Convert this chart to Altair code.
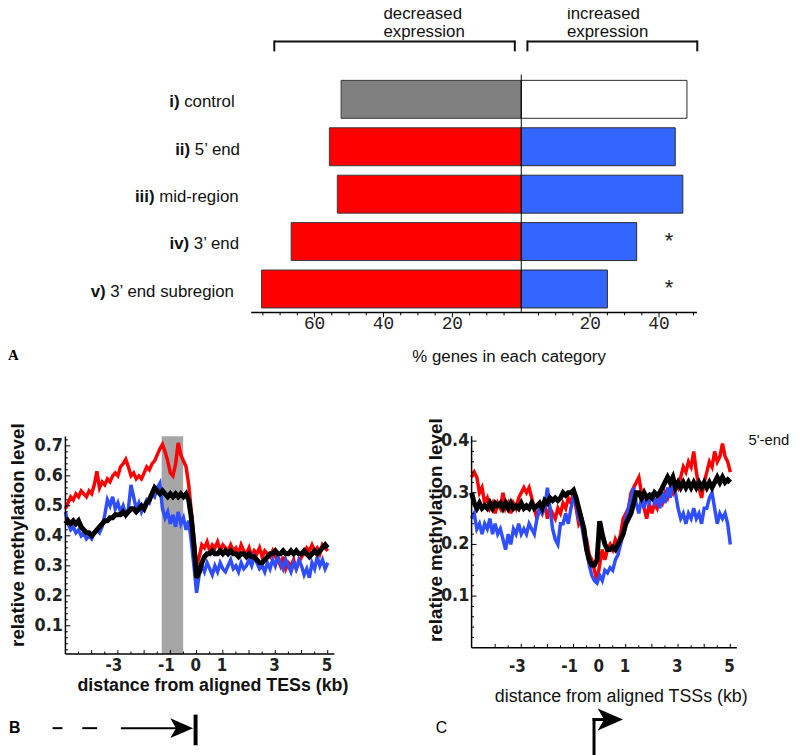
import altair as alt
import pandas as pd

# ---------------- Panel A data ----------------
categories = ["control", "5’ end", "mid-region", "3’ end", "3’ end subregion"]
prefixes = ["i)", "ii)", "iii)", "iv)", "v)"]
decreased = [52.3, 55.7, 53.4, 66.8, 75.4]
increased = [48.1, 44.7, 46.9, 33.5, 25.0]
significant = [False, False, False, True, True]
a_tick_values = [-60, -40, -20, 20, 40]
a_tick_labels = ["60", "40", "20", "20", "40"]

# ---------------- Panel B data (aligned TESs) ----------------
b_x = [round(-5.0 + 0.1 * i, 1) for i in range(101)]
b_red = [0.49, 0.51, 0.53, 0.52, 0.54, 0.53, 0.55, 0.54, 0.53, 0.55,
         0.54, 0.57, 0.615, 0.56, 0.58, 0.57, 0.59, 0.58, 0.60, 0.61,
         0.60, 0.63, 0.64, 0.655, 0.63, 0.60, 0.61, 0.59, 0.60, 0.59,
         0.61, 0.63, 0.62, 0.64, 0.65, 0.67, 0.69, 0.705, 0.68, 0.65,
         0.61, 0.60, 0.64, 0.71, 0.67, 0.65, 0.63, 0.57, 0.48, 0.39,
         0.30, 0.33, 0.37, 0.36, 0.38, 0.35, 0.37, 0.36, 0.38, 0.35,
         0.37, 0.36, 0.35, 0.37, 0.35, 0.36, 0.34, 0.37, 0.35, 0.34,
         0.36, 0.33, 0.35, 0.34, 0.36, 0.33, 0.35, 0.34, 0.33, 0.35,
         0.33, 0.32, 0.30, 0.33, 0.29, 0.31, 0.30, 0.32, 0.29, 0.31,
         0.33, 0.34, 0.36, 0.35, 0.37, 0.35, 0.36, 0.34, 0.37, 0.36,
         0.35]
b_blue = [0.48, 0.44, 0.42, 0.43, 0.41, 0.42, 0.40, 0.41, 0.39, 0.40,
          0.39, 0.41, 0.42, 0.41, 0.43, 0.47, 0.52, 0.50, 0.53, 0.49,
          0.51, 0.48, 0.50, 0.47, 0.49, 0.57, 0.53, 0.49, 0.51, 0.48,
          0.50, 0.52, 0.51, 0.54, 0.53, 0.56, 0.575, 0.49, 0.46, 0.48,
          0.44, 0.47, 0.43, 0.48, 0.44, 0.46, 0.42, 0.45, 0.38, 0.30,
          0.21, 0.27, 0.30, 0.28, 0.31, 0.29, 0.27, 0.30, 0.28, 0.31,
          0.29, 0.28, 0.30, 0.32, 0.29, 0.30, 0.28, 0.31, 0.29, 0.30,
          0.32, 0.30, 0.33, 0.31, 0.29, 0.30, 0.28, 0.31, 0.29, 0.32,
          0.30, 0.33, 0.31, 0.29, 0.32, 0.30, 0.28, 0.31, 0.29, 0.32,
          0.30, 0.27, 0.29, 0.26, 0.31, 0.29, 0.33, 0.30, 0.32, 0.29,
          0.31]
b_black = [0.44, 0.45, 0.44, 0.45, 0.44, 0.45, 0.43, 0.42, 0.41, 0.41,
           0.40, 0.41, 0.42, 0.43, 0.44, 0.45, 0.45, 0.46, 0.46, 0.47,
           0.47, 0.47, 0.48, 0.47, 0.48, 0.49, 0.49, 0.48, 0.49, 0.50,
           0.49, 0.51, 0.52, 0.54, 0.56, 0.55, 0.54, 0.55, 0.54, 0.53,
           0.54, 0.53, 0.54, 0.53, 0.54, 0.53, 0.54, 0.52, 0.46, 0.37,
           0.26, 0.28, 0.31, 0.33, 0.34, 0.34, 0.35, 0.34, 0.34, 0.35,
           0.34, 0.35, 0.34, 0.35, 0.34, 0.34, 0.33, 0.34, 0.34, 0.33,
           0.34, 0.33, 0.33, 0.32, 0.31, 0.31, 0.32, 0.33, 0.34, 0.34,
           0.35, 0.34, 0.34, 0.35, 0.34, 0.34, 0.35, 0.34, 0.35, 0.34,
           0.34, 0.35, 0.34, 0.33, 0.34, 0.35, 0.34, 0.35, 0.36, 0.37,
           0.36]
b_shade = [-1.33, -0.51]
b_ytick_values = [0.1, 0.2, 0.3, 0.4, 0.5, 0.6, 0.7]
b_xtick_values = [-3, -1, 0, 1, 3, 5]

# ---------------- Panel C data (aligned TSSs) ----------------
c_x = [round(-4.9 + 0.1 * i, 1) for i in range(100)]
c_red = [0.33, 0.34, 0.33, 0.30, 0.31, 0.28, 0.29, 0.27, 0.28, 0.26,
         0.28, 0.27, 0.30, 0.27, 0.28, 0.26, 0.28, 0.27, 0.29, 0.30,
         0.31, 0.30, 0.31, 0.29, 0.27, 0.25, 0.27, 0.26, 0.28, 0.25,
         0.27, 0.26, 0.25, 0.27, 0.26, 0.28, 0.27, 0.29, 0.28, 0.30,
         0.27, 0.24, 0.25, 0.22, 0.21, 0.18, 0.17, 0.15, 0.13, 0.16,
         0.19, 0.17, 0.19, 0.20, 0.19, 0.21, 0.20, 0.22, 0.25, 0.26,
         0.27, 0.30, 0.31, 0.32, 0.33, 0.30, 0.27, 0.25, 0.28, 0.26,
         0.28, 0.27, 0.29, 0.28, 0.30, 0.29, 0.31, 0.30, 0.32, 0.31,
         0.33, 0.35, 0.34, 0.36, 0.35, 0.38, 0.34, 0.31, 0.29, 0.32,
         0.34, 0.36, 0.35, 0.38, 0.36, 0.37, 0.395, 0.37, 0.36, 0.34]
c_blue = [0.25, 0.26, 0.23, 0.24, 0.22, 0.24, 0.23, 0.25, 0.22, 0.24,
          0.22, 0.23, 0.21, 0.19, 0.22, 0.20, 0.23, 0.22, 0.24, 0.22,
          0.23, 0.22, 0.24, 0.23, 0.22, 0.25, 0.27, 0.26, 0.27, 0.31,
          0.27, 0.23, 0.21, 0.20, 0.24, 0.24, 0.26, 0.24, 0.27, 0.29,
          0.28, 0.25, 0.24, 0.21, 0.19, 0.16, 0.14, 0.13, 0.125, 0.14,
          0.13, 0.15, 0.145, 0.155, 0.15, 0.17, 0.18, 0.20, 0.22, 0.25,
          0.27, 0.29, 0.31, 0.28, 0.26, 0.29, 0.27, 0.29, 0.28, 0.30,
          0.28, 0.29, 0.27, 0.30, 0.28, 0.31, 0.29, 0.335, 0.30, 0.27,
          0.25, 0.26, 0.24, 0.26, 0.25, 0.27, 0.25, 0.26, 0.24, 0.27,
          0.27, 0.29, 0.30, 0.27, 0.24, 0.26, 0.25, 0.26, 0.24, 0.20]
c_black = [0.30, 0.28, 0.27, 0.28, 0.27, 0.275, 0.27, 0.28, 0.27, 0.28,
           0.275, 0.28, 0.27, 0.28, 0.27, 0.28, 0.27, 0.275, 0.27, 0.28,
           0.27, 0.275, 0.27, 0.28, 0.27, 0.275, 0.28, 0.27, 0.285, 0.28,
           0.29, 0.285, 0.29, 0.285, 0.29, 0.30, 0.295, 0.30, 0.30, 0.305,
           0.29, 0.27, 0.25, 0.23, 0.19, 0.17, 0.16, 0.16, 0.17, 0.245,
           0.22, 0.20, 0.19, 0.19, 0.195, 0.19, 0.20, 0.21, 0.22, 0.24,
           0.25, 0.26, 0.28, 0.30, 0.30, 0.29, 0.30, 0.29, 0.295, 0.29,
           0.30, 0.295, 0.30, 0.31, 0.32, 0.33, 0.32, 0.33, 0.31, 0.32,
           0.31, 0.32, 0.31, 0.32, 0.31, 0.32, 0.31, 0.32, 0.31, 0.32,
           0.31, 0.32, 0.31, 0.32, 0.33, 0.32, 0.33, 0.32, 0.325, 0.32]
c_ytick_values = [0.1, 0.2, 0.3, 0.4]
c_xtick_values = [-3, -1, 0, 1, 3, 5]

# ---------------- layout helpers ----------------
W, H = 791, 747
def cx(p):
    return p - 8
def cy(p):
    return p - 8

SANS = "Liberation Sans"
MONO = "Liberation Mono"
NARROW = "'Liberation Sans Narrow', 'DejaVu Sans Condensed', 'Liberation Mono'"
RED, BLUE, BARBLUE = "#ff0000", "#2f4fff", "#3366ff"

def one(text):
    return pd.DataFrame({"t": [text]})

def free_text(text, px, py, **style):
    return alt.Chart(one(text)).mark_text(**style).encode(
        x=alt.value(cx(px)), y=alt.value(cy(py)), text="t:N")

# ================= Panel A =================
A0, AK = 526.5, 3.48
def a_u(p):
    return (p - A0) / AK

ax_sc = alt.Scale(domain=[-80, 60], range=[cx(A0 - 80 * AK), cx(A0 + 60 * AK)], nice=False, zero=False)
ay_sc = alt.Scale(domain=categories, range=[cy(72.5), cy(312.0)], paddingInner=0.2, paddingOuter=0.1)
A_AXIS = 311.7

def AX(f):
    return alt.X(f, type="quantitative", scale=ax_sc, axis=None)
def AY(f):
    return alt.Y(f, type="nominal", scale=ay_sc, axis=None)

CW = {'c': 500, 'o': 556, 'n': 556, 't': 278, 'r': 333, 'l': 222, '5': 556, '’': 222, ' ': 278,
      'e': 556, 'd': 556, 'm': 833, 'i': 222, '-': 333, 'g': 556, '3': 556, 's': 500, 'u': 556, 'b': 556}
def text_w(s, size):
    return sum(CW.get(ch, 556) for ch in s) * size / 1000.0

label_right = [237, 243, 241, 242, 237]
rest_start = [r - text_w(c, 17) for r, c in zip(label_right, categories)]

dfA = pd.DataFrame({
    "cat": categories,
    "prefix": prefixes,
    "dec": [-v for v in decreased],
    "inc": increased,
    "zero": [0] * len(categories),
    "dec_fill": ["#808080" if c == "control" else RED for c in categories],
    "inc_fill": ["#ffffff" if c == "control" else BARBLUE for c in categories],
    "rest_x": [a_u(p) for p in rest_start],
    "pre_x": [a_u(p - 4.7) for p in rest_start],
})
dfStar = pd.DataFrame({"cat": [c for c, s in zip(categories, significant) if s]})
dfStar["x"] = a_u(675.7)
dfStar["t"] = "*"

bars_dec = alt.Chart(dfA).mark_bar(stroke="#3a3a3a", strokeWidth=1).encode(
    x=AX("dec"), x2=alt.X2("zero"), y=AY("cat"), fill=alt.Fill("dec_fill:N", scale=None))
bars_inc = alt.Chart(dfA).mark_bar(stroke="#2a2a2a", strokeWidth=1).encode(
    x=AX("zero"), x2=alt.X2("inc"), y=AY("cat"), fill=alt.Fill("inc_fill:N", scale=None))
center = alt.Chart(pd.DataFrame({"x": [0]})).mark_rule(color="black", strokeWidth=1).encode(
    x=AX("x"), y=alt.value(cy(71.5)), y2=alt.value(cy(A_AXIS)))
a_axis = alt.Chart(pd.DataFrame({"x": [-78.4], "x2": [51.0]})).mark_rule(color="black", strokeWidth=1.5).encode(
    x=AX("x"), x2=alt.X2("x2"), y=alt.value(cy(A_AXIS)))
tv = [v for v in range(-75, 51, 5) if v != 0]
a_minor = alt.Chart(pd.DataFrame({"x": [v for v in tv if v % 20 != 0]})).mark_rule(color="black", strokeWidth=1).encode(
    x=AX("x"), y=alt.value(cy(A_AXIS)), y2=alt.value(cy(A_AXIS + 3)))
a_major = alt.Chart(pd.DataFrame({"x": [v for v in tv if v % 20 == 0]})).mark_rule(color="black", strokeWidth=1).encode(
    x=AX("x"), y=alt.value(cy(A_AXIS)), y2=alt.value(cy(A_AXIS + 5)))
a_ticklab = alt.Chart(pd.DataFrame({"x": a_tick_values, "t": a_tick_labels})).mark_text(
    font=MONO, fontSize=18, baseline="middle", align="center", color="#222").encode(
    x=AX("x"), y=alt.value(cy(323.5)), text="t:N")
rest_lab = alt.Chart(dfA).mark_text(font=SANS, fontSize=17, align="left", baseline="middle", dy=3, color="#111").encode(
    x=AX("rest_x"), y=AY("cat"), text="cat:N")
pre_lab = alt.Chart(dfA).mark_text(font=SANS, fontSize=17, fontWeight="bold", align="right", baseline="middle", dy=3, color="#111").encode(
    x=AX("pre_x"), y=AY("cat"), text="prefix:N")
stars = alt.Chart(dfStar).mark_text(font=MONO, fontSize=22, baseline="middle", align="center", color="#222").encode(
    x=AX("x"), y=AY("cat"), text="t:N")
brk_h = alt.Chart(pd.DataFrame({"x": [a_u(277), a_u(532.7)], "x2": [a_u(520), a_u(704.3)]})).mark_rule(
    color="#111", strokeWidth=2).encode(x=AX("x"), x2=alt.X2("x2"), y=alt.value(cy(38)))
brk_v = alt.Chart(pd.DataFrame({"x": [a_u(277), a_u(520), a_u(532.7), a_u(704.3)]})).mark_rule(
    color="#111", strokeWidth=2).encode(x=AX("x"), y=alt.value(cy(37)), y2=alt.value(cy(48)))
hdr = alt.Chart(pd.DataFrame({"x": [a_u(387.3), a_u(572.7)],
                              "t": ["decreased\nexpression", "increased\nexpression"]})).mark_text(
    font=SANS, fontSize=17, align="left", baseline="alphabetic", lineBreak="\n", lineHeight=17.5, color="#111").encode(
    x=AX("x"), y=alt.value(cy(15.5)), text="t:N")
a_title = alt.Chart(one("% genes in each category")).mark_text(
    font=SANS, fontSize=17, align="center", baseline="middle", color="#111").encode(
    x=AX("x"), y=alt.value(cy(357.3)), text="t:N").transform_calculate(x=str(a_u(514.2)))

panelA = alt.layer(bars_dec, bars_inc, center, a_axis, a_minor, a_major, a_ticklab,
                   rest_lab, pre_lab, stars, brk_h, brk_v, hdr, a_title,
                   free_text("A", 8, 355, font="Liberation Serif", fontSize=15, fontWeight="bold", align="left", baseline="middle"),
                   free_text("B", 9, 732, font=SANS, fontSize=16, fontWeight="bold", align="left", baseline="middle"),
                   free_text("C", 440, 732, font=SANS, fontSize=16, align="left", baseline="middle"))

# ================= line panels =================
ARROW = "M-1,-0.87L1,0L-1,0.87L-0.5,0Z"

def line_panel(xs, red, blue, black, x0px, xk, xdom, y0px, yk, ydom, axis_y, ytick_vals, xtick_vals,
               ylab_right, xlab_y, xtitle, xtitle_px, xtitle_py, xtitle_bold, ytitle_px, ytitle_py,
               extra):
    xs_sc = alt.Scale(domain=xdom, range=[cx(x0px + xdom[0] * xk), cx(x0px + xdom[1] * xk)], nice=False, zero=False)
    ys_sc = alt.Scale(domain=ydom, range=[cy(y0px - ydom[0] * yk), cy(y0px - ydom[1] * yk)], nice=False, zero=False)

    def PX(f):
        return alt.X(f, type="quantitative", scale=xs_sc, axis=None)
    def PY(f):
        return alt.Y(f, type="quantitative", scale=ys_sc, axis=None)

    df = pd.DataFrame({"x": xs, "red": red, "blue": blue, "black": black})
    layers = []
    layers += extra(PX, PY)
    layers.append(alt.Chart(df).mark_line(color=RED, strokeWidth=3.5).encode(x=PX("x"), y=PY("red")))
    layers.append(alt.Chart(df).mark_line(color=BLUE, strokeWidth=3.5).encode(x=PX("x"), y=PY("blue")))
    layers.append(alt.Chart(df).mark_line(color="black", strokeWidth=5).encode(x=PX("x"), y=PY("black")))

    xmin, xmax = xdom[0], xdom[1]
    ytop = ydom[1] - 0.025 * (ydom[1] - ydom[0])
    layers.append(alt.Chart(pd.DataFrame({"x": [xmin], "y": [axis_y], "y2": [ytop]})).mark_rule(
        color="black", strokeWidth=1.5).encode(x=PX("x"), y=PY("y"), y2=alt.Y2("y2")))
    layers.append(alt.Chart(pd.DataFrame({"x": [xmin], "x2": [xmax], "y": [axis_y]})).mark_rule(
        color="black", strokeWidth=1.5).encode(x=PX("x"), x2=alt.X2("x2"), y=PY("y")))
    # y ticks (inside)
    major_y = ytick_vals
    minor_y = [round(0.02 * i, 2) for i in range(1, int(ytop / 0.02) + 1)]
    minor_y = [v for v in minor_y if abs(v * 10 - round(v * 10)) > 1e-6]
    layers.append(alt.Chart(pd.DataFrame({"y": major_y, "x": xmin, "x2": xmin + 5.0 / xk})).mark_rule(
        color="black", strokeWidth=1).encode(x=PX("x"), x2=alt.X2("x2"), y=PY("y")))
    layers.append(alt.Chart(pd.DataFrame({"y": minor_y, "x": xmin, "x2": xmin + 2.5 / xk})).mark_rule(
        color="black", strokeWidth=1).encode(x=PX("x"), x2=alt.X2("x2"), y=PY("y")))
    # x ticks (inside)
    xt = [v * 0.5 for v in range(int(xmin * 2) + 1, 11)]
    layers.append(alt.Chart(pd.DataFrame({"x": [v for v in xt if v == int(v)], "y": axis_y, "y2": axis_y + 4.0 / yk})).mark_rule(
        color="black", strokeWidth=1).encode(x=PX("x"), y=PY("y"), y2=alt.Y2("y2")))
    layers.append(alt.Chart(pd.DataFrame({"x": [v for v in xt if v != int(v)], "y": axis_y, "y2": axis_y + 2.5 / yk})).mark_rule(
        color="black", strokeWidth=1).encode(x=PX("x"), y=PY("y"), y2=alt.Y2("y2")))
    # tick labels
    layers.append(alt.Chart(pd.DataFrame({"y": ytick_vals, "t": [f"{v:.1f}" for v in ytick_vals]})).mark_text(
        font=NARROW, fontSize=18, fontWeight="bold", align="right", baseline="middle", color="#222").encode(
        x=alt.value(cx(ylab_right)), y=PY("y"), text="t:N"))
    layers.append(alt.Chart(pd.DataFrame({"x": xtick_vals, "t": [str(v) for v in xtick_vals]})).mark_text(
        font=NARROW, fontSize=17, fontWeight="bold", align="right", baseline="middle", dx=4.5, color="#222").encode(
        x=PX("x"), y=alt.value(cy(xlab_y)), text="t:N"))
    # titles
    layers.append(free_text(xtitle, xtitle_px, xtitle_py, font=SANS, fontSize=18,
                            fontWeight="bold" if xtitle_bold else "normal", align="center", baseline="middle", color="#111"))
    layers.append(free_text("relative methylation level", ytitle_px, ytitle_py, font=SANS, fontSize=19,
                            fontWeight="bold", angle=270, align="center", baseline="middle", color="#111"))
    return alt.layer(*layers)


def extra_B(PX, PY):
    shade = alt.Chart(pd.DataFrame({"x": [b_shade[0]], "x2": [b_shade[1]], "y": [0.006], "y2": [0.732]})).mark_rect(
        color="#a6a6a6").encode(x=PX("x"), x2=alt.X2("x2"), y=PY("y"), y2=alt.Y2("y2"))
    def k(p):
        return (p - 198.5) / 26.5
    dashes = alt.Chart(pd.DataFrame({"x": [k(53), k(83), k(122)], "x2": [k(63), k(98), k(180)]})).mark_rule(
        color="black", strokeWidth=2).encode(x=PX("x"), x2=alt.X2("x2"), y=alt.value(cy(731.7)))
    head = alt.Chart(pd.DataFrame({"x": [k(183.5)]})).mark_point(
        shape=ARROW, filled=True, size=530, color="black", opacity=1).encode(x=PX("x"), y=alt.value(cy(731.7)))
    bar = alt.Chart(pd.DataFrame({"x": [k(197.5)]})).mark_rule(color="black", strokeWidth=4).encode(
        x=PX("x"), y=alt.value(cy(718)), y2=alt.value(cy(749)))
    return [shade, dashes, head, bar]


def extra_C(PX, PY):
    def k(p):
        return (p - 605.7) / 26.4
    pole = alt.Chart(pd.DataFrame({"x": [k(600)]})).mark_rule(color="black", strokeWidth=3).encode(
        x=PX("x"), y=alt.value(cy(721.5)), y2=alt.value(cy(760)))
    stub = alt.Chart(pd.DataFrame({"x": [k(598.5)], "x2": [k(612)]})).mark_rule(color="black", strokeWidth=3).encode(
        x=PX("x"), x2=alt.X2("x2"), y=alt.value(cy(723)))
    head = alt.Chart(pd.DataFrame({"x": [k(616.5)]})).mark_point(
        shape=ARROW, filled=True, size=650, color="black", opacity=1).encode(x=PX("x"), y=alt.value(cy(723)))
    lab = free_text("5'-end", 756, 441, font=SANS, fontSize=15, align="left", baseline="middle", color="#111")
    return [pole, stub, head, lab]


panelB = line_panel(b_x, b_red, b_blue, b_black, 198.5, 26.5, [-5, 5.25], 658.6, 303.0, [0, 0.75], 0.006,
                    b_ytick_values, b_xtick_values, 63.5, 669, "distance from aligned TESs (kb)", 215, 689, True,
                    18, 536.7, extra_B)
panelC = line_panel(c_x, c_red, c_blue, c_black, 605.7, 26.4, [-4.9, 5.25], 650.5, 522.0, [0, 0.42], 0.0,
                    c_ytick_values, c_xtick_values, 474, 670, "distance from aligned TSSs (kb)", 627.5, 700, False,
                    440, 531.7, extra_C)

chart = alt.layer(panelA, panelB, panelC).resolve_scale(
    x="independent", y="independent"
).properties(
    width=W, height=H, padding=0, autosize=alt.AutoSizeParams(type="none")
).configure_view(stroke=None)

chart.save("out.html", embed_options={"renderer": "svg", "actions": False})
